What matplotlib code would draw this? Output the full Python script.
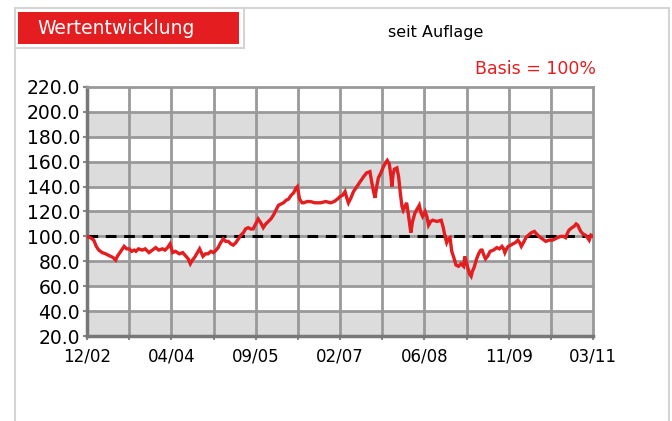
import matplotlib
matplotlib.use("Agg")
import matplotlib.pyplot as plt
from matplotlib.patches import Rectangle

# time in grid periods (12 periods from 12/02 to 03/11), value in % (Basis = 100)
t = [0.00, 0.08, 0.16, 0.22, 0.28, 0.36, 0.44, 0.50, 0.56, 0.62, 0.68, 0.72, 0.76, 0.82, 0.88, 0.94,
     1.00, 1.06, 1.12, 1.16, 1.22, 1.31, 1.38, 1.47, 1.55, 1.63, 1.70, 1.79, 1.85, 1.91, 1.97,
     2.03, 2.10, 2.19, 2.27, 2.35, 2.40, 2.45, 2.50, 2.55, 2.62, 2.67, 2.71, 2.75, 2.81, 2.87, 2.94,
     3.00, 3.06, 3.11, 3.17, 3.23, 3.29, 3.35, 3.41, 3.47, 3.53, 3.59, 3.65, 3.71, 3.76, 3.82, 3.88, 3.94,
     4.00, 4.06, 4.12, 4.18, 4.24, 4.30, 4.36, 4.42, 4.48, 4.54, 4.60, 4.66, 4.72, 4.78, 4.84, 4.90, 4.96, 4.99,
     5.04, 5.10, 5.14, 5.22, 5.30, 5.40, 5.54, 5.66, 5.78, 5.86, 5.94,
     6.00, 6.06, 6.12, 6.16, 6.20, 6.26, 6.32, 6.40, 6.48, 6.56, 6.63, 6.71, 6.75, 6.79, 6.83, 6.87, 6.91, 6.97,
     7.03, 7.08, 7.12, 7.17, 7.21, 7.23, 7.26, 7.29, 7.35, 7.39, 7.43, 7.47, 7.50, 7.54, 7.58, 7.62, 7.66, 7.68,
     7.72, 7.78, 7.83, 7.88, 7.92, 7.96,
     8.02, 8.06, 8.10, 8.15, 8.20, 8.30, 8.40, 8.45, 8.49, 8.53, 8.57, 8.61, 8.65, 8.69, 8.75, 8.81, 8.87, 8.93, 8.96,
     9.02, 9.07, 9.11, 9.14, 9.18, 9.24, 9.30, 9.34, 9.37, 9.41, 9.45, 9.50, 9.56, 9.64, 9.72, 9.78, 9.84, 9.88,
     9.91, 9.95, 9.99,
     10.05, 10.10, 10.16, 10.22, 10.26, 10.30, 10.35, 10.41, 10.47, 10.54, 10.61, 10.66, 10.72, 10.80, 10.88, 10.96,
     11.04, 11.10, 11.16, 11.23, 11.30, 11.35, 11.40, 11.43, 11.50, 11.55, 11.60, 11.64, 11.68, 11.71, 11.76, 11.82,
     11.87, 11.91, 11.95, 12.00]
wert = [100, 99, 97, 92, 89, 87, 86, 85, 84, 83, 81, 84, 86, 89, 92, 90,
        90, 88, 89, 88, 90, 89, 90, 87, 89, 91, 89, 90, 89, 91, 94,
        87, 88, 86, 87, 84, 82, 78, 81, 83, 87, 90, 87, 84, 86, 86, 88,
        87, 89, 91, 95, 98, 96, 96, 94, 93, 95, 98, 101, 103, 106, 107, 106, 106,
        110, 114, 111, 107, 110, 112, 114, 117, 121, 125, 126, 127, 129, 130, 133, 135, 139, 140,
        130, 127, 127, 128, 128, 127, 127, 128, 127, 128, 130,
        132, 133, 136, 131, 127, 131, 136, 140, 144, 148, 151, 152, 144, 137, 131, 140, 147, 151,
        156, 159, 161, 158, 148, 140, 150, 154, 155, 148, 135, 124, 121, 124, 127, 118, 108, 103,
        112, 119, 122, 125, 119, 116,
        120, 116, 109, 112, 113, 112, 113, 107, 100, 95, 98, 99, 88, 84, 77, 76, 78, 76, 84,
        76, 70, 68, 72, 75, 82, 87, 89, 89, 85, 82, 84, 88, 89, 91, 90, 92, 90,
        87, 90, 92,
        93, 94, 95, 97, 95, 92, 95, 99, 101, 103, 104, 102, 100, 98, 96, 97,
        97, 98, 99, 100, 100, 99, 103, 105, 107, 108, 110, 109, 106, 104, 102, 101,
        99, 97, 101, 100]

x_labels = ["12/02", "04/04", "09/05", "02/07", "06/08", "11/09", "03/11"]
y_ticks = [20, 40, 60, 80, 100, 120, 140, 160, 180, 200, 220]

W, H = 672, 421
fig = plt.figure(figsize=(W / 100, H / 100), dpi=100)

# background layer in pixel coordinates for frame and header
bg = fig.add_axes([0, 0, 1, 1])
bg.set_xlim(0, W)
bg.set_ylim(H, 0)
bg.axis("off")
frame_col = "#d4d4d4"
bg.plot([15, 669], [8, 8], color=frame_col, lw=1.5)
bg.plot([15, 15], [8, H], color=frame_col, lw=1.5)
bg.plot([669, 669], [8, H], color=frame_col, lw=1.5)
bg.plot([15, 244], [48, 48], color=frame_col, lw=1.5)
bg.plot([244, 244], [8, 48], color=frame_col, lw=1.5)
bg.add_patch(Rectangle((18, 12), 221, 32, facecolor="#e41e20", edgecolor="none"))
bg.text(37, 29, "Wertentwicklung", color="white", fontsize=13.5, va="center", ha="left")
bg.text(436, 32, "seit Auflage", color="black", fontsize=11.5, va="center", ha="center")
bg.text(596, 69, "Basis = 100%", color="#e41e20", fontsize=12.5, va="center", ha="right")

# chart area
ax = fig.add_axes([87 / W, 1 - 336 / H, (593 - 87) / W, (336 - 87) / H])
ax.set_xlim(0, 12)
ax.set_ylim(20, 220)
for lo in range(20, 220, 40):
    ax.axhspan(lo, lo + 20, color="#dcdcdc", lw=0, zorder=0)
for xv in range(1, 12):
    ax.axvline(xv, color="#999999", lw=2, zorder=1)
for yv in y_ticks[1:-1]:
    ax.axhline(yv, color="#999999", lw=2, zorder=1)

ax.axhline(100, color="black", lw=2.2, ls=(0, (3.5, 2.5)), zorder=2)
ax.plot(t, wert, color="#e41e20", lw=2.4, zorder=3, solid_joinstyle="miter")

ax.set_xticks(range(0, 13))
ax.set_xticklabels([x_labels[i // 2] if i % 2 == 0 else "" for i in range(13)], fontsize=12)
ax.set_yticks(y_ticks)
ax.set_yticklabels([f"{v:.1f}" for v in y_ticks], fontsize=13.5)
ax.tick_params(axis="both", length=3, width=1.5, color="#888888", pad=2)
ax.tick_params(axis="x", pad=5)

for s in ["top", "right"]:
    ax.spines[s].set_color("#999999")
    ax.spines[s].set_linewidth(2)
for s in ["left", "bottom"]:
    ax.spines[s].set_color("#777777")
    ax.spines[s].set_linewidth(2.5)

fig.savefig("out.png", dpi=100)
